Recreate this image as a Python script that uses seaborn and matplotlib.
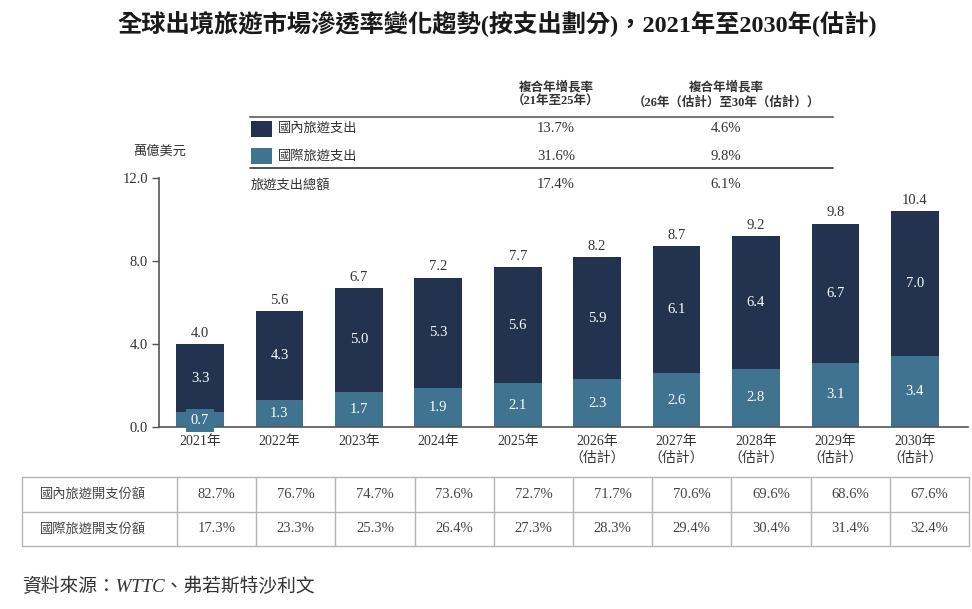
import pandas as pd
import matplotlib.pyplot as plt
import seaborn as sns
from matplotlib.lines import Line2D
from matplotlib.patches import Rectangle

# data
years = ['2021', '2022', '2023', '2024', '2025', '2026', '2027', '2028', '2029', '2030']
year_labels = ['2021年', '2022年', '2023年', '2024年', '2025年',
               '2026年\n（估計）', '2027年\n（估計）', '2028年\n（估計）',
               '2029年\n（估計）', '2030年\n（估計）']
domestic = [3.3, 4.3, 5.0, 5.3, 5.6, 5.9, 6.1, 6.4, 6.7, 7.0]
international = [0.7, 1.3, 1.7, 1.9, 2.1, 2.3, 2.6, 2.8, 3.1, 3.4]
total = [4.0, 5.6, 6.7, 7.2, 7.7, 8.2, 8.7, 9.2, 9.8, 10.4]

series_names = ['國內旅遊支出', '國際旅遊支出', '旅遊支出總額']
cagr_21_25 = ['13.7%', '31.6%', '17.4%']
cagr_26_30 = ['4.6%', '9.8%', '6.1%']
cagr_headers = [('複合年增長率', '（21年至25年）'),
                ('複合年增長率', '（26年（估計）至30年（估計））')]

share_names = ['國內旅遊開支份額', '國際旅遊開支份額']
domestic_share = ['82.7%', '76.7%', '74.7%', '73.6%', '72.7%', '71.7%', '70.6%', '69.6%', '68.6%', '67.6%']
intl_share = ['17.3%', '23.3%', '25.3%', '26.4%', '27.3%', '28.3%', '29.4%', '30.4%', '31.4%', '32.4%']

title = '全球出境旅遊市場滲透率變化趨勢(按支出劃分)，2021年至2030年(估計)'
source = '資料來源：WTTC、弗若斯特沙利文'

NAVY = '#23324f'
BLUE = '#40738f'
TXT = '#333333'
NUM = 10.5

sns.set_style('white')
plt.rcParams['font.family'] = ['Liberation Serif', 'Noto Sans CJK TC', 'DejaVu Sans']

W, H = 972, 609
fig = plt.figure(figsize=(W / 100, H / 100), dpi=100)


def fx(x):
    return x / W


def fy(y):
    return 1 - y / H


ax = fig.add_axes([fx(159.3), fy(427), 808.7 / W, 249 / H])

df = pd.DataFrame({'year': years, 'total': total, 'intl': international})
sns.barplot(data=df, x='year', y='total', color=NAVY, saturation=1, width=0.6,
            linewidth=0, edgecolor='none', ax=ax)
sns.barplot(data=df, x='year', y='intl', color=BLUE, saturation=1, width=0.6,
            linewidth=0, edgecolor='none', ax=ax)

ax.set_xlim(-0.513, 9.67)
ax.set_ylim(0, 12)
ax.set_yticks([0, 4, 8, 12])
ax.set_yticklabels([f'{v:.1f}' for v in [0, 4, 8, 12]], fontsize=NUM, color=TXT)
ax.set_xticks(range(len(years)))
ax.set_xticklabels(year_labels, fontsize=10, color=TXT, linespacing=1.25)
ax.set_xlabel('')
ax.set_ylabel('')
ax.tick_params(axis='y', direction='out', length=5, width=1, color='#555555', left=True, pad=3)
ax.tick_params(axis='x', length=0, pad=6)
sns.despine(ax=ax, top=True, right=True)
for s in ['left', 'bottom']:
    ax.spines[s].set_color('#555555')
    ax.spines[s].set_linewidth(1.2)

ax.bar_label(ax.containers[0], labels=[f'{v:.1f}' for v in total], padding=3,
             fontsize=NUM, color=TXT)
for i, (d, n) in enumerate(zip(domestic, international)):
    ax.text(i, n + d / 2, f'{d:.1f}', ha='center', va='center', color='white', fontsize=NUM)
    kw = {}
    if i == 0:
        kw['bbox'] = dict(boxstyle='square,pad=0.35', facecolor=BLUE, edgecolor='none')
    ax.text(i, n / 2 - (0.05 if i == 0 else 0), f'{n:.1f}', ha='center', va='center',
            color='white', fontsize=NUM, **kw)

# unit label
fig.text(fx(160), fy(151), '萬億美元', ha='center', va='center', fontsize=9.5, color=TXT)

# CAGR table at the top
fig.add_artist(Line2D([fx(250), fx(833)], [fy(117), fy(117)], color='#777777', lw=1.5))
fig.add_artist(Line2D([fx(250), fx(833)], [fy(168), fy(168)], color='#333333', lw=1.2))
for cx, (h1, h2) in zip([556, 726], cagr_headers):
    fig.text(fx(cx), fy(87), h1, ha='center', va='center', fontsize=9, fontweight='bold', color=TXT)
    fig.text(fx(cx), fy(102), h2, ha='center', va='center', fontsize=9, fontweight='bold', color=TXT)
row_y = [129, 156, 185]
for k, (name, c1, c2) in enumerate(zip(series_names, cagr_21_25, cagr_26_30)):
    if k < 2:
        fig.add_artist(Rectangle((fx(251), fy(row_y[k] + 8)), 21 / W, 16 / H,
                                 facecolor=[NAVY, BLUE][k], edgecolor='none'))
        tx = 278
    else:
        tx = 251
    fig.text(fx(tx), fy(row_y[k]), name, ha='left', va='center', fontsize=9.5, color=TXT)
    fig.text(fx(556), fy(row_y[k]), c1, ha='center', va='center', fontsize=NUM, color=TXT)
    fig.text(fx(726), fy(row_y[k]), c2, ha='center', va='center', fontsize=NUM, color=TXT)

# share table at the bottom
grid = '#b5b5b5'
col_x = [22, 177] + [177 + 79.2 * k for k in range(1, 11)]
for y in [477, 511.5, 546]:
    fig.add_artist(Line2D([fx(22), fx(col_x[-1])], [fy(y), fy(y)], color=grid, lw=1))
for x in col_x:
    fig.add_artist(Line2D([fx(x), fx(x)], [fy(477), fy(546)], color=grid, lw=1))
for name, vals, y in zip(share_names, [domestic_share, intl_share], [494, 529]):
    fig.text(fx(40), fy(y), name, ha='left', va='center', fontsize=9.5, color='#444444')
    for k, v in enumerate(vals):
        cx = (col_x[k + 1] + col_x[k + 2]) / 2
        fig.text(fx(cx), fy(y), v, ha='center', va='center', fontsize=NUM, color='#444444')

fig.text(fx(497), fy(24), title, ha='center', va='center', fontsize=17.5,
         fontweight='bold', color='#1a1a1a')
fig.text(fx(22), fy(587), source, ha='left', va='center', fontsize=13.5,
         style='italic', color='#333333')

fig.savefig('out.png', dpi=100)
